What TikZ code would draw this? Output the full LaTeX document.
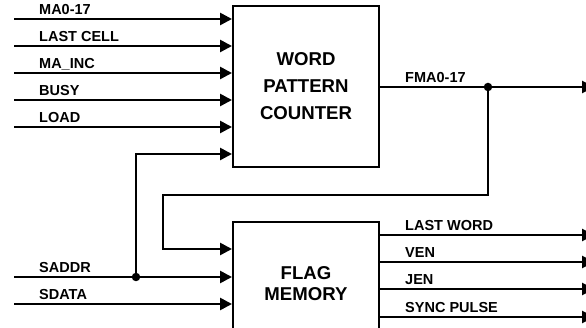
\documentclass[tikz,border=0pt]{standalone}
\usepackage{fontspec}
\setmainfont{Liberation Sans}
\usetikzlibrary{arrows.meta, calc}
\newcommand{\FlagBlockFont}{\bfseries\fontsize{18.6}{27}\selectfont}
\newcommand{\FlagMemFont}{\bfseries\fontsize{18.6}{21}\selectfont}
\newcommand{\FlagSigFont}{\bfseries\fontsize{14.5}{17}\selectfont}
\tikzset{
  flag block/.style={
    draw,
    line width=2pt,
    minimum width=146pt,
    align=center,
    inner sep=0pt,
    font=\FlagBlockFont
  },
  flag signal/.style={
    -{Triangle[length=12pt,width=12pt]},
    line width=2.6pt
  },
  flag label/.style={
    anchor=base west,
    inner sep=0pt,
    font=\FlagSigFont
  },
  flag dot/.style={circle, fill, inner sep=0pt, minimum size=8.5pt}
}

\begin{document}
\begin{tikzpicture}[x=1pt,y=-1pt]
\clip (0,0) rectangle (586,328);

\node[flag block, minimum height=161pt] (wpc) at (306,86.5)
  {WORD\\PATTERN\\COUNTER};
\node[flag block, minimum height=124pt, font=\FlagMemFont] (fm) at (306,284)
  {FLAG\\MEMORY};

% inputs of the word pattern counter
\coordinate (ma) at (14,19);
\coordinate (lastcell) at (14,46);
\coordinate (mainc) at (14,73);
\coordinate (busy) at (14,100);
\coordinate (load) at (14,127);
\coordinate (tap) at (0,154);

\draw[flag signal] (ma) -- (ma -| wpc.west);
\draw[flag signal] (lastcell) -- (lastcell -| wpc.west);
\draw[flag signal] (mainc) -- (mainc -| wpc.west);
\draw[flag signal] (busy) -- (busy -| wpc.west);
\draw[flag signal] (load) -- (load -| wpc.west);

\node[flag label] (ma label) at ($(ma)+(25,-4.5)$) {MA0-17};
\node[flag label] (lastcell label) at ($(lastcell)+(25,-4.5)$) {LAST CELL};
\node[flag label] (mainc label) at ($(mainc)+(25,-4.5)$) {MA\_INC};
\node[flag label] (busy label) at ($(busy)+(25,-4.5)$) {BUSY};
\node[flag label] (load label) at ($(load)+(25,-4.5)$) {LOAD};

% inputs of the flag memory
\coordinate (loop) at (0,249);
\coordinate (saddr) at (14,277);
\coordinate (sdata) at (14,304);

\draw[flag signal] (saddr) -- (saddr -| fm.west);
\draw[flag signal] (sdata) -- (sdata -| fm.west);
\node[flag label] (saddr label) at ($(saddr)+(25,-4.5)$) {SADDR};
\node[flag label] (sdata label) at ($(sdata)+(25,-4.5)$) {SDATA};

\node[flag dot] (saddr dot) at (136,277) {};
\draw[flag signal] (saddr dot.center) |- (tap -| wpc.west);

% counter output, fed back into the flag memory
\coordinate (fma) at (594,87);
\coordinate (turn) at (163,195);
\draw[flag signal] (fma -| wpc.east) -- (fma);
\node[flag label] (fma label) at ($(fma -| wpc.east)+(25,-4)$) {FMA0-17};
\node[flag dot] (fma dot) at (488,87) {};
\draw[flag signal] (fma dot.center) |- (turn) |- (loop -| fm.west);

% flag memory outputs
\coordinate (lastword) at (594,235);
\coordinate (ven) at (594,262);
\coordinate (jen) at (594,289);
\coordinate (sync) at (594,317);

\draw[flag signal] (lastword -| fm.east) -- (lastword);
\draw[flag signal] (ven -| fm.east) -- (ven);
\draw[flag signal] (jen -| fm.east) -- (jen);
\draw[flag signal] (sync -| fm.east) -- (sync);

\node[flag label] (lastword label) at ($(lastword -| fm.east)+(25,-4)$) {LAST WORD};
\node[flag label] (ven label) at ($(ven -| fm.east)+(25,-4)$) {VEN};
\node[flag label] (jen label) at ($(jen -| fm.east)+(25,-4)$) {JEN};
\node[flag label] (sync label) at ($(sync -| fm.east)+(25,-4)$) {SYNC PULSE};
\end{tikzpicture}
\end{document}
